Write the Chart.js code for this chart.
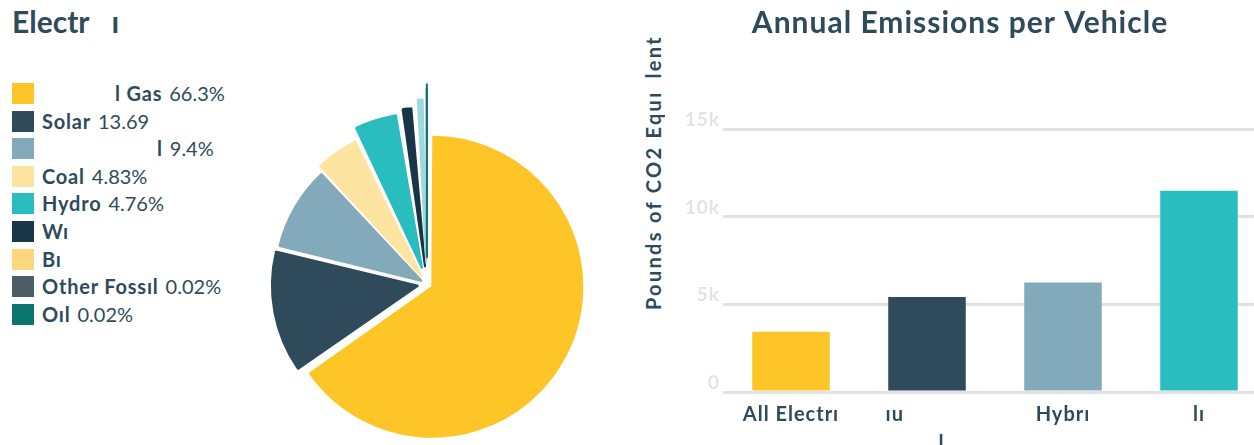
<!DOCTYPE html>
<html>
<head>
<meta charset="utf-8">
<script src="https://cdn.jsdelivr.net/npm/chart.js@4.4.0/dist/chart.umd.min.js"></script>
<style>
  body { margin: 0; width: 1254px; height: 445px; overflow: hidden; background: #fff;
         font-family: Lato, sans-serif; color: #2e4b5b; position: relative; }
  #pie-title { position: absolute; left: 12px; top: 3px; font-size: 30px; font-weight: 700; white-space: pre; }
  #legend { position: absolute; left: 12px; top: 83px; }
  .row { height: 27.6px; display: flex; align-items: flex-start; white-space: pre; line-height: 21px; }
  .box { width: 22px; height: 21px; margin-right: 8px; flex: none; }
  .name { font-weight: 700; font-size: 20px; letter-spacing: 0.8px; }
  .pct { font-weight: 400; font-size: 20px; margin-left: 7px; }
  .gap { display: inline-block; }
  #pie-wrap { position: absolute; left: 247px; top: 60px; width: 360px; height: 448px; }
  #bar-wrap { position: absolute; left: 640px; top: 0; width: 640px; height: 462px; }
  #y-title { position: absolute; left: 641px; bottom: 135px; writing-mode: vertical-rl;
             transform: rotate(180deg); font-size: 20px; font-weight: 700; white-space: pre; letter-spacing: 2.3px; }
</style>
</head>
<body>
<div id="pie-title">Electr<span class="gap" style="width:22px"></span>ı</div>
<div id="legend"></div>
<div id="pie-wrap"><canvas id="pie-chart"></canvas></div>
<div id="y-title">Pounds of CO2 Equı<span class="gap" style="height:12px"></span>lent</div>
<div id="bar-wrap"><canvas id="bar-chart"></canvas></div>
<script>
// electricity sources (pie)
const sourceNames = ["l Gas", "Solar", "l", "Coal", "Hydro", "Wı", "Bı", "Other Fossıl", "Oıl"];
const sourcePct = ["66.3%", "13.69", "9.4%", "4.83%", "4.76%", "", "", "0.02%", "0.02%"];
const sourceValues = [66.3, 13.69, 9.4, 4.83, 4.76, 1.4, 1.1, 0.02, 0.02];

// annual emissions (bar)
const vehicleLabels = ["All Electrı", ["ıu" + " ".repeat(11), " ".repeat(5) + "ı"], "Hybrı", "lı"];
const emissionValues = [3430, 5420, 6240, 11480];
const yTickValues = [0, 5000, 10000, 15000];
const yTickLabels = ["0", "5k", "10k", "15k"];

// styles
const legendColors = ["#fdc527", "#2f4a5a", "#82aaba", "#fde4a1", "#29bdbf", "#1a3548", "#fdd780", "#4c5d66", "#0c7570"];
const sliceColors = ["#fdc527", "#2f4a5a", "#82aaba", "#fde4a1", "#29bdbf", "#1a3548", "#9dd9e2", "#4c5d66", "#0c7570"];
const sliceOffsets = [24, 36, 24, 36, 65, 68, 84, 104, 112];
const nameGaps = [73, 0, 115, 0, 0, 0, 0, 0, 0];
const barColors = ["#fdc527", "#2f4a5a", "#82aaba", "#29bdbf"];
const darkText = "#2e4b5b";

function buildLegend() {
    const legend = document.getElementById("legend");
    sourceNames.forEach((name, i) => {
        const row = document.createElement("div");
        row.className = "row";
        const box = document.createElement("span");
        box.className = "box";
        box.style.background = legendColors[i];
        row.appendChild(box);
        const label = document.createElement("span");
        label.className = "name";
        if (nameGaps[i]) {
            const gap = document.createElement("span");
            gap.className = "gap";
            gap.style.width = nameGaps[i] + "px";
            label.appendChild(gap);
        }
        label.appendChild(document.createTextNode(name));
        row.appendChild(label);
        if (sourcePct[i]) {
            const pct = document.createElement("span");
            pct.className = "pct";
            pct.textContent = sourcePct[i];
            row.appendChild(pct);
        }
        legend.appendChild(row);
    });
}

function drawPie() {
    new Chart(document.getElementById("pie-chart"), {
        type: "pie",
        data: {
            labels: sourceNames,
            datasets: [{
                data: sourceValues,
                backgroundColor: sliceColors,
                borderColor: sliceColors,
                borderWidth: 2,
                offset: sliceOffsets,
                radius: 144
            }]
        },
        options: {
            responsive: true,
            maintainAspectRatio: false,
            animation: false,
            events: [],
            plugins: { legend: { display: false }, tooltip: { enabled: false } }
        }
    });
}

// wider letters, closer to the original heavy font
const spacingPlugin = {
    id: "spacing",
    beforeDraw: chart => { chart.ctx.letterSpacing = "1px"; },
    afterDraw: chart => { chart.ctx.letterSpacing = "0px"; }
};

function drawBars() {
    new Chart(document.getElementById("bar-chart"), {
        type: "bar",
        data: {
            labels: vehicleLabels,
            datasets: [{
                data: emissionValues,
                backgroundColor: barColors,
                categoryPercentage: 1,
                barPercentage: 0.57
            }]
        },
        plugins: [spacingPlugin],
        options: {
            responsive: true,
            maintainAspectRatio: false,
            animation: false,
            events: [],
            layout: { padding: { left: 13, right: 13, bottom: 0 } },
            plugins: {
                legend: { display: false },
                tooltip: { enabled: false },
                title: {
                    display: true,
                    text: "Annual Emissions per Vehicle",
                    color: darkText,
                    font: { family: "Lato", size: 30, weight: "bold" },
                    padding: { top: 5, bottom: 88 }
                }
            },
            scales: {
                x: {
                    grid: { display: false, drawTicks: false },
                    border: { display: false },
                    ticks: {
                        color: darkText,
                        padding: 11,
                        maxRotation: 0,
                        font: { family: "Lato", size: 20, weight: "bold" }
                    }
                },
                y: {
                    min: 0,
                    max: 15000,
                    afterBuildTicks: axis => { axis.ticks = yTickValues.map(v => ({ value: v })); },
                    afterFit: axis => { axis.width = 70; },
                    grid: { color: "#e2e2e2", lineWidth: 3, drawTicks: false },
                    border: { display: false },
                    ticks: {
                        color: "#e3e3e3",
                        padding: 3,
                        labelOffset: -9,
                        font: { family: "Lato", size: 19, weight: "bold" },
                        callback: (value) => yTickLabels[yTickValues.indexOf(value)]
                    }
                }
            }
        }
    });
}

buildLegend();
drawPie();
drawBars();
</script>
</body>
</html>
